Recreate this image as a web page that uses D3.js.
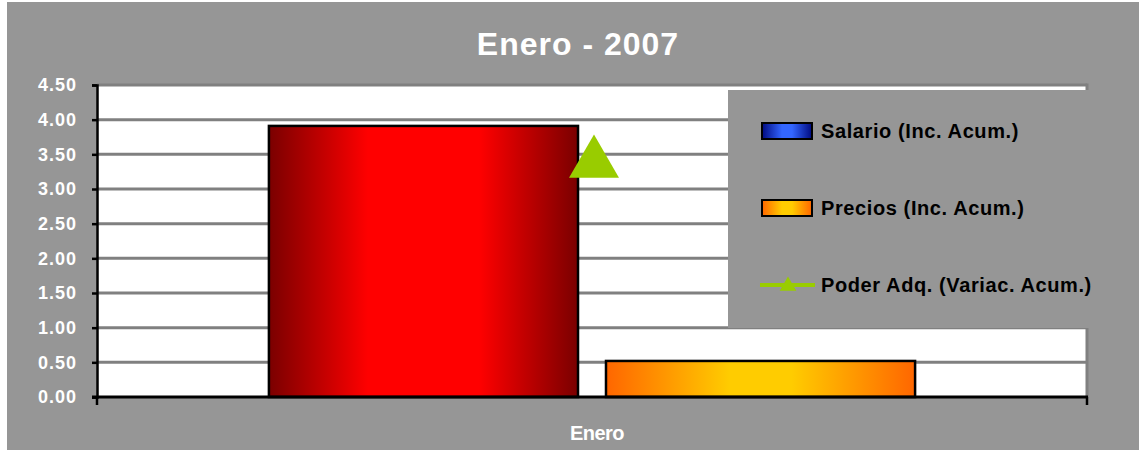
<html lang="es">
<head>
  <meta charset="UTF-8">
  <title>Enero - 2007</title>
  <style>
    body { margin: 0; background: #ffffff; }
    text { font-family: "Liberation Sans", Arial, sans-serif; font-weight: bold; }
  </style>
</head>
<body>
  <script src="https://d3js.org/d3.v7.min.js"></script>
  <div id="chart"></div>

  <script>
    // data
    var categories = ["Enero"];
    var salario = [3.91];
    var precios = [0.52];
    var poderAdq = [3.37];
    var seriesNames = ["Salario (Inc. Acum.)", "Precios (Inc. Acum.)", "Poder Adq. (Variac. Acum.)"];
    var yTickValues = [0, 0.5, 1, 1.5, 2, 2.5, 3, 3.5, 4, 4.5];
    var chartTitle = "Enero - 2007";

    var width = 1139, height = 450;
    var plot = { left: 97, right: 1087, top: 85, bottom: 397 };

    var svg = d3.select("#chart")
      .append("svg")
      .attr("width", width)
      .attr("height", height);

    // gradients for bars and legend swatches
    var defs = svg.append("defs");
    function gradient(id, edge, middle, a, b) {
      var g = defs.append("linearGradient")
        .attr("id", id)
        .attr("x1", "0").attr("x2", "1").attr("y1", "0").attr("y2", "0");
      g.append("stop").attr("offset", "0").attr("stop-color", edge);
      g.append("stop").attr("offset", a).attr("stop-color", middle);
      g.append("stop").attr("offset", b).attr("stop-color", middle);
      g.append("stop").attr("offset", "1").attr("stop-color", edge);
    }
    gradient("gradRed", "#7a0000", "#ff0000", 0.32, 0.68);
    gradient("gradOrange", "#ff6600", "#ffcc00", 0.4, 0.6);
    gradient("gradBlue", "#000a80", "#3366ff", 0.4, 0.6);

    // gray background
    svg.append("rect")
      .attr("x", 7).attr("y", 2)
      .attr("width", width - 7).attr("height", height - 2)
      .attr("fill", "#969696");

    // title
    svg.append("text")
      .attr("x", 578).attr("y", 55)
      .attr("text-anchor", "middle")
      .attr("font-size", "32px")
      .attr("letter-spacing", "1px")
      .attr("fill", "#ffffff")
      .text(chartTitle);

    // scales
    var x0 = d3.scaleBand()
      .domain(categories)
      .range([plot.left, plot.right])
      .padding(0);

    var x1 = d3.scaleBand()
      .domain(["salario", "precios"])
      .range([0, x0.bandwidth()])
      .paddingInner(0.083)
      .paddingOuter(0.51);

    var y = d3.scaleLinear()
      .domain([0, 4.5])
      .range([plot.bottom, plot.top]);

    // plot area
    svg.append("rect")
      .attr("x", plot.left).attr("y", plot.top)
      .attr("width", plot.right - plot.left)
      .attr("height", plot.bottom - plot.top)
      .attr("fill", "#ffffff");

    // gridlines
    svg.append("g")
      .selectAll("line")
      .data(yTickValues.filter(function (d) { return d > 0; }))
      .enter()
      .append("line")
      .attr("x1", plot.left).attr("x2", plot.right)
      .attr("y1", function (d) { return y(d); })
      .attr("y2", function (d) { return y(d); })
      .attr("stroke", "#808080")
      .attr("stroke-width", 3);

    // right border of plot area
    svg.append("line")
      .attr("x1", plot.right).attr("x2", plot.right)
      .attr("y1", plot.top - 1.5).attr("y2", plot.bottom)
      .attr("stroke", "#808080")
      .attr("stroke-width", 3);

    // bars
    var groups = svg.append("g")
      .selectAll("g")
      .data(categories)
      .enter()
      .append("g")
      .attr("transform", function (d) { return "translate(" + x0(d) + ",0)"; });

    groups.append("rect")
      .attr("x", x1("salario"))
      .attr("y", function (d, i) { return y(salario[i]); })
      .attr("width", x1.bandwidth())
      .attr("height", function (d, i) { return y(0) - y(salario[i]); })
      .attr("fill", "url(#gradRed)")
      .attr("stroke", "#000000")
      .attr("stroke-width", 2.5);

    groups.append("rect")
      .attr("x", x1("precios"))
      .attr("y", function (d, i) { return y(precios[i]); })
      .attr("width", x1.bandwidth())
      .attr("height", function (d, i) { return y(0) - y(precios[i]); })
      .attr("fill", "url(#gradOrange)")
      .attr("stroke", "#000000")
      .attr("stroke-width", 2.5);

    // poder adquisitivo marker
    var triangle = d3.symbol().type(d3.symbolTriangle).size(1080);
    groups.append("path")
      .attr("d", triangle)
      .attr("transform", function (d, i) {
        return "translate(" + (x0.bandwidth() / 2 + 2) + "," + y(poderAdq[i]) + ")";
      })
      .attr("fill", "#99cc00");

    // y axis
    var yAxis = d3.axisLeft(y)
      .tickValues(yTickValues)
      .tickFormat(d3.format(".2f"))
      .tickSize(5)
      .tickPadding(15);

    var yg = svg.append("g")
      .attr("transform", "translate(" + plot.left + ",0)")
      .call(yAxis);
    yg.select(".domain").attr("stroke", "#000000").attr("stroke-width", 2.5);
    yg.selectAll(".tick line").attr("stroke", "#000000").attr("stroke-width", 2.5);
    yg.selectAll(".tick text")
      .attr("fill", "#ffffff")
      .attr("font-size", "18px")
      .attr("letter-spacing", "1px")
      .style("font-weight", "bold");

    // x axis, ticks between categories
    svg.append("line")
      .attr("x1", plot.left - 5).attr("x2", plot.right + 1)
      .attr("y1", plot.bottom).attr("y2", plot.bottom)
      .attr("stroke", "#000000").attr("stroke-width", 3);
    svg.append("g")
      .selectAll("line")
      .data([plot.left, plot.right])
      .enter()
      .append("line")
      .attr("x1", function (d) { return d; })
      .attr("x2", function (d) { return d; })
      .attr("y1", plot.bottom).attr("y2", plot.bottom + 8)
      .attr("stroke", "#000000").attr("stroke-width", 2.5);

    svg.append("g")
      .selectAll("text")
      .data(categories)
      .enter()
      .append("text")
      .attr("x", function (d) { return x0(d) + x0.bandwidth() / 2 + 5; })
      .attr("y", 440)
      .attr("text-anchor", "middle")
      .attr("font-size", "20px")
      .attr("letter-spacing", "-0.5px")
      .attr("fill", "#ffffff")
      .text(function (d) { return d; });

    // legend
    var legend = svg.append("g");
    legend.append("rect")
      .attr("x", 728).attr("y", 90)
      .attr("width", 380).attr("height", 238)
      .attr("fill", "#969696");

    var legendY = function (i) { return 131 + i * 77; };

    legend.append("rect")
      .attr("x", 762).attr("y", legendY(0) - 8)
      .attr("width", 50).attr("height", 16)
      .attr("fill", "url(#gradBlue)")
      .attr("stroke", "#000000").attr("stroke-width", 2);

    legend.append("rect")
      .attr("x", 762).attr("y", legendY(1) - 8)
      .attr("width", 50).attr("height", 16)
      .attr("fill", "url(#gradOrange)")
      .attr("stroke", "#000000").attr("stroke-width", 2);

    legend.append("line")
      .attr("x1", 760).attr("x2", 815)
      .attr("y1", legendY(2)).attr("y2", legendY(2))
      .attr("stroke", "#99cc00").attr("stroke-width", 4);
    legend.append("path")
      .attr("d", d3.symbol().type(d3.symbolTriangle).size(120))
      .attr("transform", "translate(788," + (legendY(2) + 1) + ")")
      .attr("fill", "#99cc00");

    legend.selectAll("text")
      .data(seriesNames)
      .enter()
      .append("text")
      .attr("x", 821)
      .attr("y", function (d, i) { return legendY(i) + 7; })
      .attr("font-size", "20px")
      .attr("letter-spacing", "0.6px")
      .attr("fill", "#000000")
      .text(function (d) { return d; });
  </script>
</body>
</html>
